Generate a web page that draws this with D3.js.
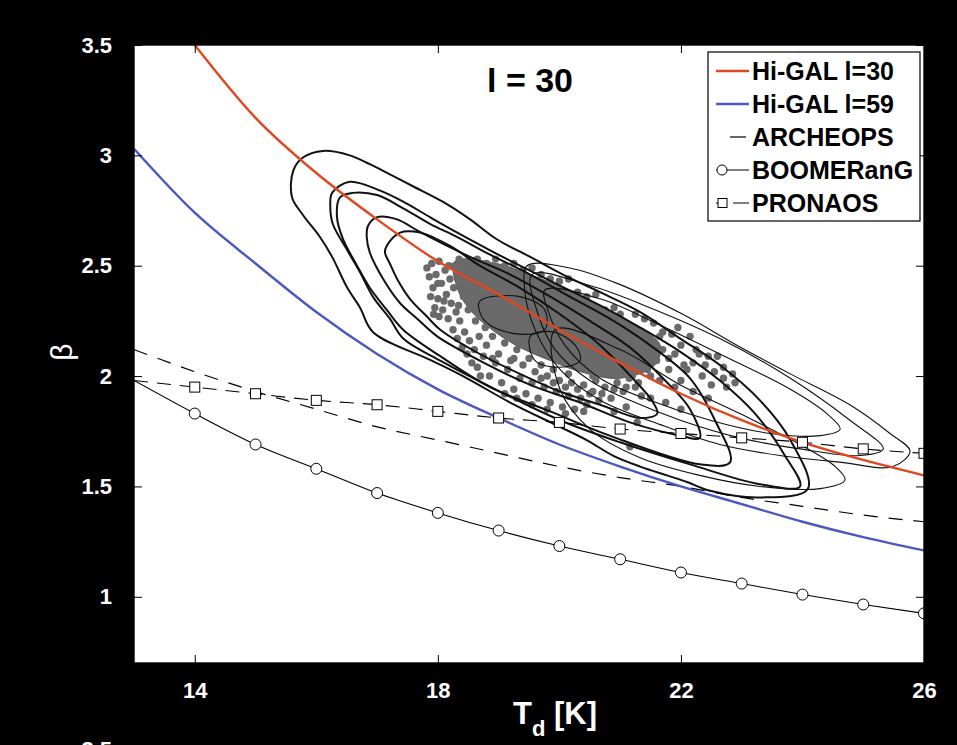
<!DOCTYPE html>
<html>
<head>
<meta charset="utf-8">
<script src="https://cdnjs.cloudflare.com/ajax/libs/d3/7.8.5/d3.min.js"></script>
<style>
  body { margin: 0; background: #000; }
  svg { display: block; font-family: "Liberation Sans", Arial, sans-serif; }
</style>
</head>
<body>
<svg id="chart" width="957" height="745"></svg>
<script>
// temperature grid (K) and the beta(T) relations
const tempK = [13, 14, 15, 16, 17, 18, 19, 20, 21, 22, 23, 24, 25, 26];
const higal30Beta = [null, 3.50, 3.17, 2.92, 2.71, 2.52, 2.37, 2.21, 2.06, 1.92, 1.80, 1.70, 1.62, 1.55];
const higal59Beta = [3.03, 2.74, 2.51, 2.29, 2.10, 1.94, 1.81, 1.69, 1.59, 1.50, 1.42, 1.34, 1.27, 1.21];
const archeopsBeta = [2.12, 2.02, 1.93, 1.85, 1.77, 1.71, 1.65, 1.59, 1.54, 1.50, 1.45, 1.41, 1.37, 1.34];
const boomerangBeta = [1.98, 1.83, 1.69, 1.58, 1.47, 1.38, 1.30, 1.23, 1.17, 1.11, 1.06, 1.01, 0.965, 0.925];
const pronaosBeta = [1.98, 1.95, 1.92, 1.89, 1.87, 1.84, 1.81, 1.79, 1.76, 1.74, 1.72, 1.70, 1.67, 1.65];
const markerTemps = [14, 15, 16, 17, 18, 19, 20, 21, 22, 23, 24, 25, 26];

const xTicks = [14, 18, 22, 26];
const yTicks = [1, 1.5, 2, 2.5, 3, 3.5];

// likelihood contours [T, beta] - thick set
const contourA1 = [[17.13,2.56],[17.16,2.59],[17.38,2.65],[17.71,2.65],[18.20,2.59],[18.69,2.50],[19.35,2.40],[20.01,2.28],[20.67,2.14],[21.24,1.98],[21.52,1.89],[21.61,1.83],[21.33,1.81],[20.67,1.87],[20.01,1.93],[19.35,2.01],[18.69,2.10],[18.04,2.21],[17.82,2.27],[17.54,2.35],[17.33,2.44],[17.21,2.51]];
const contourA2 = [[16.83,2.63],[16.85,2.68],[17.00,2.72],[17.33,2.71],[17.66,2.66],[18.08,2.60],[18.53,2.54],[19.19,2.46],[19.85,2.36],[20.50,2.25],[21.16,2.13],[21.74,1.98],[22.15,1.85],[22.31,1.72],[21.99,1.73],[21.16,1.79],[20.34,1.88],[19.52,1.96],[18.69,2.07],[17.99,2.18],[17.66,2.26],[17.38,2.33],[17.10,2.44],[16.88,2.56]];
const contourA3 = [[16.34,2.72],[16.39,2.81],[16.60,2.83],[17.00,2.82],[17.43,2.76],[17.87,2.69],[18.32,2.63],[18.86,2.55],[19.52,2.46],[20.17,2.36],[20.83,2.26],[21.49,2.14],[22.15,1.99],[22.56,1.80],[22.81,1.61],[22.31,1.60],[20.83,1.73],[19.85,1.84],[18.86,1.95],[18.04,2.09],[17.43,2.21],[17.16,2.30],[16.88,2.40],[16.67,2.50],[16.44,2.62]];
const contourA4 = [[16.23,2.77],[16.26,2.83],[16.55,2.88],[17.05,2.84],[17.43,2.79],[17.87,2.72],[18.32,2.65],[18.86,2.57],[19.35,2.50],[20.01,2.41],[20.67,2.32],[21.33,2.22],[21.99,2.11],[22.64,1.98],[23.22,1.83],[23.71,1.64],[23.96,1.50],[23.30,1.51],[22.15,1.60],[21.00,1.70],[20.01,1.80],[19.02,1.93],[18.04,2.07],[17.43,2.17],[17.21,2.26],[16.93,2.36],[16.72,2.47],[16.51,2.57],[16.27,2.69]];
const contourA5 = [[15.62,2.93],[15.78,2.99],[16.11,3.02],[16.55,3.00],[16.88,2.96],[17.10,2.93],[17.59,2.86],[18.08,2.79],[18.53,2.71],[18.97,2.62],[19.52,2.54],[20.06,2.46],[20.67,2.38],[21.33,2.29],[21.99,2.17],[22.64,2.05],[23.30,1.89],[23.80,1.71],[24.09,1.49],[23.30,1.45],[22.48,1.48],[22.10,1.52],[21.77,1.55],[21.33,1.59],[20.88,1.64],[20.45,1.71],[20.01,1.77],[19.19,1.88],[18.48,1.99],[17.90,2.07],[16.93,2.20],[16.72,2.31],[16.51,2.40],[16.26,2.54],[16.06,2.63],[15.78,2.73],[15.60,2.81]];

// thin set
const contourB1 = [[19.76,2.39],[20.67,2.35],[21.66,2.23],[22.64,2.10],[23.80,1.94],[24.40,1.83],[24.62,1.76],[24.29,1.73],[23.47,1.74],[22.48,1.80],[21.49,1.89],[20.67,1.99],[20.09,2.14],[19.81,2.30]];
const contourB2 = [[19.55,2.46],[20.50,2.41],[21.49,2.31],[22.64,2.17],[23.80,1.99],[24.78,1.80],[25.33,1.67],[24.95,1.64],[23.96,1.67],[22.97,1.72],[21.99,1.80],[21.16,1.89],[20.50,1.98],[19.93,2.12],[19.65,2.28]];
const contourB3 = [[19.43,2.39],[19.47,2.50],[20.17,2.49],[20.95,2.42],[22.03,2.28],[22.92,2.14],[23.80,2.01],[24.78,1.87],[25.44,1.74],[25.77,1.66],[25.49,1.59],[24.62,1.61],[23.63,1.64],[22.64,1.69],[21.66,1.78],[20.67,1.89],[20.01,2.03],[19.60,2.21]];
const contourB4 = [[19.93,2.21],[21.00,2.12],[21.99,1.96],[22.97,1.83],[23.96,1.69],[24.54,1.59],[24.70,1.53],[24.29,1.49],[23.30,1.50],[22.31,1.55],[21.33,1.63],[20.50,1.76],[20.01,1.94]];
const contourC1 = [[18.69,2.34],[19.35,2.36],[19.76,2.30],[19.76,2.21],[19.35,2.19],[18.86,2.23],[18.69,2.29]];
const contourC2 = [[19.52,2.18],[19.90,2.20],[20.26,2.14],[20.34,2.07],[20.01,2.04],[19.60,2.07]];

const thickContours = [contourA1, contourA2, contourA3, contourA4, contourA5];
const thinContours = [contourB1, contourB2, contourB3, contourB4, contourC1, contourC2];

// dense core of the pixel cloud and the individual pixels
const coreOutline = [[18.28,2.52],[18.97,2.51],[19.52,2.46],[20.06,2.40],[20.67,2.32],[21.24,2.23],[21.66,2.14],[21.57,2.05],[21.00,1.99],[20.34,2.02],[19.85,2.07],[19.35,2.13],[18.94,2.20],[18.56,2.29],[18.33,2.39]];
const scatterPts = [
  [17.82,2.49],[17.86,2.45],[17.90,2.51],[17.92,2.40],[17.97,2.46],[18.00,2.35],[18.02,2.52],[18.06,2.42],[18.08,2.30],[18.12,2.48],[18.14,2.37],[18.17,2.26],[18.20,2.44],[18.22,2.33],[18.25,2.21],[18.28,2.50],[18.30,2.29],[18.02,2.27],[17.95,2.31],[18.32,2.17],[18.36,2.25],[18.40,2.13],[18.44,2.20],[18.48,2.10],[18.52,2.16],[18.56,2.06],[18.60,2.12],
  [17.88,2.36],[17.93,2.28],[18.00,2.42],[18.10,2.34],[18.18,2.50],[18.26,2.40],[18.34,2.32],[18.38,2.45],[18.42,2.36],[18.50,2.30],[18.58,2.38],[18.62,2.25],[18.68,2.18],[18.72,2.30],[18.78,2.22],[18.90,2.18],[18.70,2.00],[18.90,2.08],
  [18.35,2.53],[18.50,2.52],[18.65,2.53],[18.80,2.51],[18.95,2.53],[19.10,2.50],[19.25,2.51],[19.40,2.48],[19.55,2.49],[19.70,2.46],[19.85,2.44],[20.00,2.43],[20.15,2.44],[20.30,2.38],[20.45,2.36],[20.60,2.37],[20.75,2.30],[20.90,2.31],
  [18.65,2.04],[18.75,2.09],[18.85,2.00],[18.95,2.06],[19.05,1.97],[19.15,2.03],[19.25,1.94],[19.35,1.99],[19.45,1.92],[19.55,1.97],[19.65,1.90],[19.75,1.95],[19.85,1.88],[19.95,1.93],[20.05,1.86],[20.15,1.91],[20.25,1.85],[20.35,1.90],[20.45,1.87],[20.55,1.93],[20.65,1.89],[20.75,1.95],[20.85,1.90],[20.95,1.97],[21.05,1.93],[21.15,1.99],[21.25,1.95],[21.35,1.91],[21.28,1.79],[21.16,1.68],
  [19.10,2.15],[19.30,2.12],[19.50,2.08],[19.70,2.05],[19.90,2.03],[19.25,2.08],[19.70,1.99],[19.90,1.97],[20.10,1.95],[20.30,1.94],[20.50,1.92],[20.70,1.92],[20.90,1.94],[21.10,1.95],[21.30,1.97],[21.50,2.00],[20.15,2.01],[20.55,2.00],[20.95,2.00],[19.10,1.92],[19.30,1.90],[19.55,1.87],[19.80,1.85],[20.10,1.83],[20.40,1.84],
  [21.00,2.28],[21.10,2.22],[21.25,2.28],[21.35,2.20],[21.55,2.24],[21.50,2.15],[21.70,2.12],[21.85,2.19],[22.00,2.14],[22.15,2.18],[22.30,2.10],[22.45,2.09],[22.60,2.09],[22.55,2.02],[22.85,2.01],[22.89,1.97],[22.75,1.95],[22.35,2.00],[22.05,2.05],[21.80,2.03],[21.60,2.07],[21.45,2.03],[21.65,1.98],[21.90,1.95],[22.20,1.93],[22.45,1.90],[21.50,1.90],[21.75,1.88],[22.00,1.85],
  [21.70,2.20],[21.90,2.10],[22.10,2.03],[22.25,2.12],[22.40,2.05],[22.70,2.04],[22.70,1.99],[22.00,1.98],[21.80,2.08],[22.50,1.96],[22.20,2.06],[21.95,2.22],[21.40,2.26],[21.65,2.18],
  [18.45,2.40],[18.55,2.47],[18.70,2.44],[18.85,2.47],[19.00,2.45],[19.20,2.44],[19.40,2.42],[19.60,2.39],[19.80,2.36],[20.00,2.34],[20.20,2.31],[20.40,2.28],[20.60,2.24],[20.80,2.20],[21.00,2.14],[21.20,2.08],[18.80,2.14],[19.00,2.10],[19.20,2.07],[19.40,2.05],[19.60,2.02],[19.80,2.00],[20.00,1.98],[20.20,1.97],[20.40,1.96],[20.60,1.98],[20.80,2.01],[21.00,2.03],[21.20,2.00],[21.40,2.10],[21.10,1.86],[20.90,1.84]
];

const legendLabels = ["Hi-GAL l=30", "Hi-GAL l=59", "ARCHEOPS", "BOOMERanG", "PRONAOS"];

const margin = { top: 45, right: 33, bottom: 82, left: 134 };
const W = 957, H = 745;
const svg = d3.select("#chart");

const x = d3.scaleLinear().domain([13, 26]).range([margin.left, W - margin.right]);
const y = d3.scaleLinear().domain([0.7, 3.5]).range([H - margin.bottom, margin.top]);

svg.append("rect").attr("width", W).attr("height", H).attr("fill", "#000");
svg.append("rect")
  .attr("x", x(13)).attr("y", y(3.5))
  .attr("width", x(26) - x(13)).attr("height", y(0.7) - y(3.5))
  .attr("fill", "#fff");

svg.append("clipPath").attr("id", "plotClip")
  .append("rect")
  .attr("x", x(13)).attr("y", y(3.5))
  .attr("width", x(26) - x(13)).attr("height", y(0.7) - y(3.5));

const plot = svg.append("g").attr("clip-path", "url(#plotClip)");

// pixel cloud
plot.append("path")
  .datum(coreOutline)
  .attr("d", d3.line().x(d => x(d[0])).y(d => y(d[1])).curve(d3.curveCatmullRomClosed))
  .attr("fill", "#6a6a6a")
  .attr("stroke", "#444").attr("stroke-width", 0.8);

plot.selectAll(".pix")
  .data(scatterPts)
  .enter().append("circle")
  .attr("class", "pix")
  .attr("cx", d => x(d[0]))
  .attr("cy", d => y(d[1]))
  .attr("r", 3.7)
  .attr("fill", "#6a6a6a");

// contours
const loop = d3.line().x(d => x(d[0])).y(d => y(d[1])).curve(d3.curveCatmullRomClosed.alpha(0.5));
plot.selectAll(".thin")
  .data(thinContours)
  .enter().append("path")
  .attr("d", loop)
  .attr("fill", "none")
  .attr("stroke", "#111")
  .attr("stroke-width", 1.1);
plot.selectAll(".thick")
  .data(thickContours)
  .enter().append("path")
  .attr("d", loop)
  .attr("fill", "none")
  .attr("stroke", "#111")
  .attr("stroke-width", 2);

// relations
const curve = d3.line()
  .defined(d => d[1] != null)
  .x(d => x(d[0])).y(d => y(d[1]))
  .curve(d3.curveMonotoneX);
const zipT = vals => tempK.map((t, i) => [t, vals[i]]);

plot.append("path").datum(zipT(archeopsBeta)).attr("d", curve)
  .attr("fill", "none").attr("stroke", "#000").attr("stroke-width", 1.2)
  .attr("stroke-dasharray", "14,11");
plot.append("path").datum(zipT(pronaosBeta)).attr("d", curve)
  .attr("fill", "none").attr("stroke", "#000").attr("stroke-width", 1.1)
  .attr("stroke-dasharray", "14,9");
plot.append("path").datum(zipT(boomerangBeta)).attr("d", curve)
  .attr("fill", "none").attr("stroke", "#000").attr("stroke-width", 1.1);
plot.append("path").datum(zipT(higal59Beta)).attr("d", curve)
  .attr("fill", "none").attr("stroke", "#4a58c0").attr("stroke-width", 2.4);
plot.append("path").datum(zipT(higal30Beta)).attr("d", curve)
  .attr("fill", "none").attr("stroke", "#e2461f").attr("stroke-width", 2.4);

const pronaosAt = t => pronaosBeta[tempK.indexOf(t)];
const boomAt = t => boomerangBeta[tempK.indexOf(t)];
plot.selectAll(".sq")
  .data(markerTemps)
  .enter().append("rect")
  .attr("x", t => x(t) - 5).attr("y", t => y(pronaosAt(t)) - 5)
  .attr("width", 10).attr("height", 10)
  .attr("fill", "#fff").attr("stroke", "#000").attr("stroke-width", 1);
plot.selectAll(".circ")
  .data(markerTemps)
  .enter().append("circle")
  .attr("cx", t => x(t)).attr("cy", t => y(boomAt(t)))
  .attr("r", 5.5)
  .attr("fill", "#fff").attr("stroke", "#000").attr("stroke-width", 1);

// axes with inward ticks
const tickFont = g => g.selectAll("text")
  .attr("fill", "#fff").style("font-size", "22px").style("font-weight", "bold");

svg.append("g")
  .attr("transform", `translate(0,${y(0.7)})`)
  .call(d3.axisBottom(x).tickValues(xTicks).tickSize(-8).tickSizeOuter(0).tickPadding(19))
  .call(g => g.select(".domain").remove())
  .call(tickFont);
svg.append("g")
  .attr("transform", `translate(0,${y(3.5)})`)
  .call(d3.axisTop(x).tickValues(xTicks).tickSize(-8).tickSizeOuter(0).tickFormat(""))
  .call(g => g.select(".domain").remove());
svg.append("g")
  .attr("transform", `translate(${x(13)},0)`)
  .call(d3.axisLeft(y).tickValues(yTicks).tickSize(-8).tickSizeOuter(0).tickPadding(22).tickFormat(d3.format("")))
  .call(g => g.select(".domain").remove())
  .call(tickFont);
svg.append("g")
  .attr("transform", `translate(${x(26)},0)`)
  .call(d3.axisRight(y).tickValues(yTicks).tickSize(-8).tickSizeOuter(0).tickFormat(""))
  .call(g => g.select(".domain").remove());

svg.append("rect")
  .attr("x", x(13)).attr("y", y(3.5))
  .attr("width", x(26) - x(13)).attr("height", y(0.7) - y(3.5))
  .attr("fill", "none").attr("stroke", "#000").attr("stroke-width", 1.4);

// axis titles
const xTitle = svg.append("text")
  .attr("x", 555).attr("y", 724)
  .attr("text-anchor", "middle")
  .attr("fill", "#fff")
  .style("font-size", "31px").style("font-weight", "bold");
xTitle.append("tspan").text("T");
xTitle.append("tspan").attr("dy", 12).style("font-size", "22px").text("d");
xTitle.append("tspan").attr("dy", -12).text(" [K]");

svg.append("text")
  .attr("transform", "translate(72,352) rotate(-90)")
  .attr("text-anchor", "middle")
  .attr("fill", "#fff")
  .style("font-size", "30px")
  .text("β");

// label of the panel below, cut by the frame as in the source
svg.append("text")
  .attr("x", 112).attr("y", 757)
  .attr("text-anchor", "end")
  .attr("fill", "#fff")
  .style("font-size", "22px").style("font-weight", "bold")
  .text("3.5");

svg.append("text")
  .attr("x", 530).attr("y", 92)
  .attr("text-anchor", "middle")
  .attr("fill", "#000")
  .style("font-size", "34px").style("font-weight", "bold")
  .text("l = 30");

// legend
const lg = svg.append("g").attr("transform", "translate(708,52)");
lg.append("rect").attr("width", 212).attr("height", 169)
  .attr("fill", "#fff").attr("stroke", "#000").attr("stroke-width", 1.2);
const rowY = i => 19 + i * 33;
const sampleStyle = [
  { stroke: "#e2461f", w: 2.4, dash: null },
  { stroke: "#4a58c0", w: 2.4, dash: null },
  { stroke: "#000", w: 1.2, dash: "16,30" },
  { stroke: "#000", w: 1.1, dash: null },
  { stroke: "#000", w: 1.1, dash: "3,14,20,30" }
];
legendLabels.forEach((label, i) => {
  const s = sampleStyle[i];
  const ln = lg.append("line")
    .attr("x1", i === 2 ? 22 : 8).attr("x2", 41)
    .attr("y1", rowY(i)).attr("y2", rowY(i))
    .attr("stroke", s.stroke).attr("stroke-width", s.w);
  if (s.dash) ln.attr("stroke-dasharray", s.dash);
  lg.append("text")
    .attr("x", 44).attr("y", rowY(i) + 9)
    .attr("fill", "#000")
    .style("font-size", "25px").style("font-weight", "bold")
    .text(label);
});
lg.append("circle").attr("cx", 14).attr("cy", rowY(3)).attr("r", 5)
  .attr("fill", "#fff").attr("stroke", "#000");
lg.append("rect").attr("x", 10).attr("y", rowY(4) - 4.5).attr("width", 9).attr("height", 9)
  .attr("fill", "#fff").attr("stroke", "#000");
</script>
</body>
</html>
